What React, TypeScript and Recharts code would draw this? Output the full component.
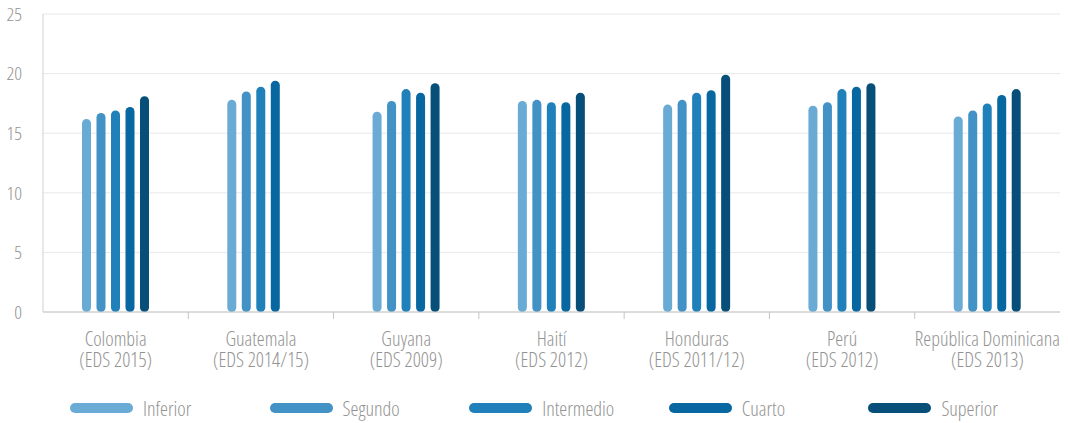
import React from 'react';
import {
    BarChart,
    Bar,
    XAxis,
    YAxis,
    CartesianGrid,
    Legend
} from 'recharts';

const paises = ['Colombia', 'Guatemala', 'Guyana', 'Haití', 'Honduras', 'Perú', 'República Dominicana'];
const encuestas = ['(EDS 2015)', '(EDS 2014/15)', '(EDS 2009)', '(EDS 2012)', '(EDS 2011/12)', '(EDS 2012)', '(EDS 2013)'];

const inferior = [16.2, 17.8, 16.8, 17.7, 17.4, 17.3, 16.4];
const segundo = [16.7, 18.5, 17.7, 17.8, 17.8, 17.6, 16.9];
const intermedio = [16.9, 18.9, 18.7, 17.6, 18.4, 18.7, 17.5];
const cuarto = [17.2, 19.4, 18.4, 17.6, 18.6, 18.9, 18.2];
const superior = [18.1, null, 19.2, 18.4, 19.9, 19.2, 18.7];

const yTicks = [0, 5, 10, 15, 20, 25];

const series = [
    { key: 'inferior', name: 'Inferior', color: '#6aabd6' },
    { key: 'segundo', name: 'Segundo', color: '#4292c5' },
    { key: 'intermedio', name: 'Intermedio', color: '#1f80ba' },
    { key: 'cuarto', name: 'Cuarto', color: '#0767a1' },
    { key: 'superior', name: 'Superior', color: '#074f79' },
];

const data = paises.map((pais, i) => ({
    pais,
    inferior: inferior[i],
    segundo: segundo[i],
    intermedio: intermedio[i],
    cuarto: cuarto[i],
    superior: superior[i],
}));

const FONT = "'Open Sans', sans-serif";
const GRIS = '#939393';

function PaisTick(props: any) {
    const { x, y, payload, width, visibleTicksCount } = props;
    const i = payload.index;
    // mitad de la banda: marca separadora a la derecha de cada país
    const half = width / visibleTicksCount / 2;
    return (
        <g transform={`translate(${x},${y})`}>
            {i < paises.length - 1 && (
                <line x1={half} x2={half} y1={-8} y2={-1} stroke="#c4c4c4" />
            )}
            <text
                textAnchor="middle"
                fill={GRIS}
                fontSize={20}
                fontFamily={FONT}
                fontWeight={300}
                style={{ fontStretch: '75%' }}
            >
                <tspan x={0} dy={26}>{paises[i]}</tspan>
                <tspan x={0} dy={20.5}>{encuestas[i]}</tspan>
            </text>
        </g>
    );
}

function Leyenda() {
    return (
        <div style={{ height: 51, display: 'flex', paddingLeft: 70, paddingTop: 26, boxSizing: 'border-box' }}>
            {series.map((s) => (
                <div key={s.key} style={{ width: 200, display: 'flex', alignItems: 'center', height: 20 }}>
                    <span style={{ width: 63, height: 10, borderRadius: 5, background: s.color, display: 'inline-block' }} />
                    <span
                        style={{
                            marginLeft: 10,
                            color: GRIS,
                            fontSize: 20,
                            fontFamily: FONT,
                            fontWeight: 300,
                            fontStretch: '75%'
                        }}
                    >
                        {s.name}
                    </span>
                </div>
            ))}
        </div>
    );
}

export default function App() {
    return (
        <div style={{ width: 1068, height: 423, background: '#fff' }}>
            <style>{'body{margin:0}'}</style>
            <BarChart
                width={1068}
                height={423}
                data={data}
                margin={{ top: 14, right: 8, left: 0, bottom: 0 }}
                barSize={9}
                barGap={5.5}
            >
                <CartesianGrid vertical={false} stroke="#e8e8e8" />
                <XAxis
                    dataKey="pais"
                    height={60}
                    axisLine={{ stroke: '#c4c4c4' }}
                    tickLine={false}
                    tick={<PaisTick />}
                    interval={0}
                />
                <YAxis
                    width={43}
                    domain={[0, 25]}
                    ticks={yTicks}
                    axisLine={{ stroke: '#d0d0d0' }}
                    tickLine={false}
                    tickMargin={15}
                    tick={{ fill: GRIS, fontSize: 19, fontFamily: FONT, fontWeight: 300, style: { fontStretch: '75%' } }}
                />
                <Legend
                    verticalAlign="bottom"
                    content={<Leyenda />}
                    wrapperStyle={{ left: 0, width: 1068 }}
                />
                {series.map((s) => (
                    <Bar
                        key={s.key}
                        dataKey={s.key}
                        name={s.name}
                        fill={s.color}
                        radius={4.5}
                        isAnimationActive={false}
                    />
                ))}
            </BarChart>
        </div>
    );
}
